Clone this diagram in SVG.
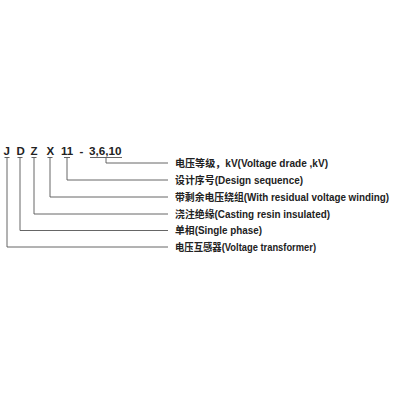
<svg xmlns="http://www.w3.org/2000/svg" width="400" height="400" viewBox="0 0 400 400">
<style>
.code{font-family:"Liberation Sans","Noto Sans CJK SC",sans-serif;font-weight:bold;font-size:11.5px;fill:#222}
.lbl{font-family:"Liberation Sans","Noto Sans CJK SC",sans-serif;font-weight:bold;font-size:10px;fill:#222}
.ln{fill:none;stroke:#555;stroke-width:0.9}
</style>
<rect width="400" height="400" fill="#fff"/>
<g id="code">
<text class="code" x="3.5" y="154.5">J</text>
<text class="code" x="16.5" y="154.5">D</text>
<text class="code" x="30.5" y="154.5">Z</text>
<text class="code" x="46.5" y="154.5">X</text>
<text class="code" x="61" y="154.5">11</text>
<text class="code" x="79.5" y="154.5">-</text>
<text class="code" x="89" y="154.5" textLength="32.5" lengthAdjust="spacingAndGlyphs">3,6,10</text>
</g>
<g id="connectors">
<path class="ln" d="M90,157.5 H122 M106,157.5 V163 H168"/>
<path class="ln" d="M64,157.5 H70 M67,157.5 V180 H168"/>
<path class="ln" d="M47.5,157.5 H52.5 M50,157.5 V197 H168"/>
<path class="ln" d="M31.5,157.5 H36.5 M34,157.5 V214 H168"/>
<path class="ln" d="M17.5,157.5 H22.5 M20,157.5 V230.5 H168"/>
<path class="ln" d="M4.5,157.5 H9.5 M7,157.5 V247 H168"/>
</g>
<g id="labels">
<text class="lbl" x="175" y="166.5" textLength="153" lengthAdjust="spacingAndGlyphs">电压等级，kV(Voltage drade ,kV)</text>
<text class="lbl" x="175" y="183.5" textLength="128" lengthAdjust="spacingAndGlyphs">设计序号(Design sequence)</text>
<text class="lbl" x="175" y="200.5" textLength="214" lengthAdjust="spacingAndGlyphs">带剩余电压绕组(With residual voltage winding)</text>
<text class="lbl" x="175" y="217.5" textLength="155" lengthAdjust="spacingAndGlyphs">浇注绝缘(Casting resin insulated)</text>
<text class="lbl" x="175" y="234" textLength="87" lengthAdjust="spacingAndGlyphs">单相(Single phase)</text>
<text class="lbl" x="175" y="250.5" textLength="141" lengthAdjust="spacingAndGlyphs">电压互感器(Voltage transformer)</text>
</g>
</svg>
